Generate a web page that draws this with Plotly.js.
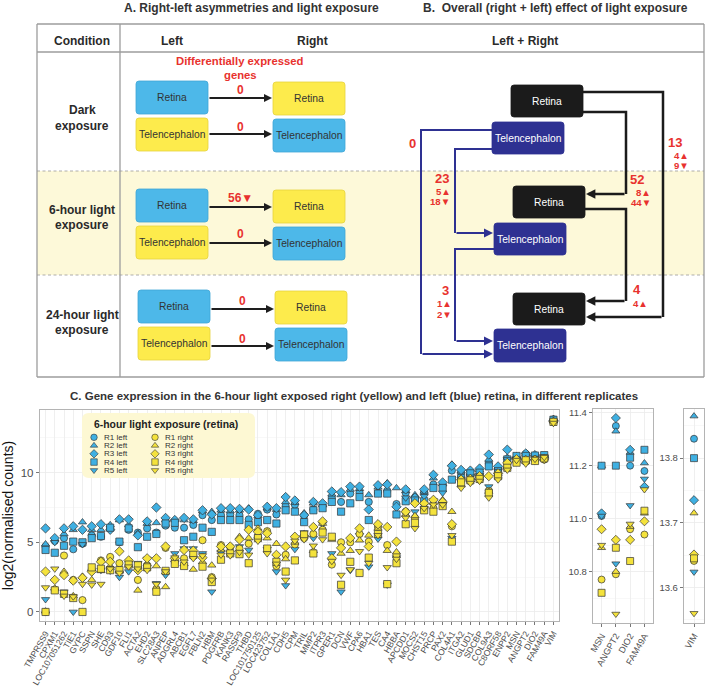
<!DOCTYPE html>
<html><head><meta charset="utf-8">
<script src="https://cdn.plot.ly/plotly-3.0.1.min.js"></script>
<style>html,body{margin:0;padding:0;background:#fff}</style>
</head><body><div id="chart" style="width:707px;height:687px"></div>
<script>
// ---------------- DATA ----------------
const genes = ['TMPRSS9','CPXM1','LOC107051262','TIE1','GYPC','SSPN','SHE','CD93','GDF10','FLI1',
 'ACTA2','EHD2','SLC28A3','ANPEP','ADGRL4','ABCB1','EGFL7','FBLN2','HBM','PDGFRB',
 'KANK3','RASSF9','THBD','LOC101750125','LOC423752','COL1A1','CDH5','CPM','TRIL','MMP2',
 'ITPR3','GPER1','DCN','VWF','CPA6','HBA1','TES','CA4','HBBA','APCDD1',
 'MOCS2','CHST15','PRCP','PAX2','COL4A1','ITGA2','GLUD1','SDCBP','COL9A3','C8ORF58',
 'ENPP2','MSN','ANGPT2','DIO2','FAM49A','VIM'];
const insetGenes = ['MSN','ANGPT2','DIO2','FAM49A'];
const insetGenes2 = ['VIM'];

const r1Left = [4.7,5.1,5.3,4.5,4.9,5.5,5.4,6.0,5.0,5.9,
 5.7,6.0,5.7,6.2,6.05,6.05,6.25,6.95,6.6,6.95,
 7.0,6.95,6.65,7.05,7.35,7.0,7.6,7.7,6.9,7.35,
 7.6,8.2,7.9,8.5,8.6,7.9,8.55,8.7,7.75,8.55,
 7.9,8.6,9.15,9.1,10.15,10.0,9.9,9.9,10.7,10.2,
 10.75,11.01,11.35,11.20,11.18,13.83];
const r2Left = [4.87,5.2,5.6,5.9,6.45,5.9,5.9,6.25,6.6,6.25,
 5.65,6.35,6.4,6.6,6.6,6.6,6.55,7.25,7.2,7.3,
 7.25,7.3,7.45,6.9,7.45,7.35,7.9,7.85,7.1,7.8,
 7.7,8.45,8.4,8.8,8.85,8.4,8.95,9.25,8.9,8.7,
 8.4,8.65,9.6,9.2,10.6,10.1,10.0,10.2,10.95,10.4,
 11.1,11.20,11.33,11.25,11.21,13.865];
const r3Left = [6.0,5.3,6.0,6.15,5.9,6.15,6.3,5.9,6.65,6.65,
 5.5,6.5,7.5,6.75,6.6,6.75,6.65,7.3,7.0,7.45,
 7.45,7.4,7.35,6.95,7.55,7.45,8.25,8.0,6.95,7.9,
 7.8,8.65,8.6,9.0,9.0,7.35,9.1,9.15,7.55,8.8,
 8.2,8.8,9.85,9.3,10.5,10.2,10.15,10.3,11.3,10.45,
 11.65,11.02,11.38,11.26,11.12,13.735];
const r4Left = [4.45,4.25,4.75,5.05,5.0,5.3,5.45,6.05,5.05,6.0,
 4.65,5.4,5.6,6.35,6.4,5.15,5.4,6.05,5.75,6.6,
 6.6,6.6,6.25,6.45,6.6,6.35,7.3,7.2,6.45,7.3,
 7.45,7.9,7.2,7.8,8.25,6.6,8.5,8.5,7.0,7.95,
 8.0,7.95,8.9,8.9,9.5,9.6,9.95,10.0,10.45,10.1,
 10.95,11.20,11.20,11.23,11.26,13.80];
const r5Left = [0.9,5.0,1.45,0.0,4.85,2.85,3.0,2.95,2.5,2.9,
 3.5,3.8,2.05,2.65,4.2,4.55,4.55,4.2,1.45,4.3,
 4.6,4.7,4.45,5.2,4.5,2.9,1.9,4.5,5.7,5.3,
 6.3,4.2,1.45,3.0,5.5,3.25,5.25,1.95,3.9,8.2,
 7.2,8.3,8.0,8.55,5.3,9.55,9.7,9.8,9.0,10.1,
 10.95,11.01,10.83,11.05,11.15,13.624];
const r1Right = [0.0,1.6,4.05,2.3,0.85,3.05,3.7,3.95,3.5,3.6,
 2.3,3.35,1.65,4.6,3.6,3.85,4.0,5.15,2.5,4.8,
 4.65,4.55,4.9,5.45,5.8,3.3,4.1,4.85,5.3,5.6,
 5.9,3.4,5.0,5.0,5.6,5.05,6.1,4.8,4.1,7.2,
 6.75,7.4,7.45,7.85,6.15,9.45,9.4,9.5,8.7,9.85,
 10.6,10.77,10.79,10.96,10.94,13.641];
const r2Right = [0.05,1.7,2.9,1.15,2.55,2.3,2.95,3.3,2.95,3.35,
 1.55,3.45,3.3,1.8,3.75,3.45,3.05,3.6,3.35,4.45,
 4.45,5.4,5.3,6.0,5.3,4.9,3.8,5.0,5.6,4.4,
 6.35,5.2,4.2,4.4,5.15,5.5,6.0,4.4,4.3,7.0,
 6.9,7.6,7.85,8.05,7.2,9.1,9.5,9.75,8.65,9.9,
 10.5,10.89,10.80,10.97,11.02,13.715];
const r3Right = [2.9,2.3,2.65,2.25,2.45,2.9,3.6,3.6,4.35,3.7,
 3.0,3.85,3.85,4.7,3.85,4.45,4.4,3.9,2.4,4.7,
 4.7,5.2,5.9,5.75,5.65,4.1,4.7,5.4,5.45,6.1,
 6.5,3.85,4.6,5.3,6.0,4.7,6.3,6.1,5.05,7.2,
 7.8,7.8,8.05,7.9,6.3,9.5,9.55,9.75,9.75,9.95,
 10.7,10.96,10.92,10.92,10.99,13.651];
const r4Right = [0.0,1.55,1.3,1.0,0.0,3.2,3.1,3.0,3.0,3.4,
 3.35,3.2,1.45,2.95,3.45,3.3,4.1,3.25,2.15,3.75,
 4.2,4.15,3.5,5.3,4.55,3.6,2.9,3.7,5.55,4.2,
 5.7,5.4,1.95,3.6,2.8,3.9,5.6,2.0,3.5,6.3,
 6.4,7.3,7.2,7.6,5.05,9.3,9.45,9.55,8.55,9.75,
 10.35,10.72,10.89,10.84,11.03,13.645];
const r5Right = [1.75,3.1,1.15,1.1,2.0,1.95,2.0,3.1,2.8,3.25,
 3.1,3.0,2.0,2.9,3.9,3.6,3.85,4.05,2.3,4.1,
 4.05,4.3,4.1,5.1,4.2,3.45,2.3,5.1,5.2,4.75,
 5.2,3.65,2.65,3.05,4.35,3.5,5.5,3.2,3.8,6.75,
 6.0,7.45,7.7,7.7,5.5,8.9,9.25,9.4,8.2,9.5,
 10.2,10.90,10.64,10.98,11.11,13.56];

const seriesNames = ['R1 left','R2 left','R3 left','R4 left','R5 left','R1 right','R2 right','R3 right','R4 right','R5 right'];
const seriesValues = [r1Left,r2Left,r3Left,r4Left,r5Left,r1Right,r2Right,r3Right,r4Right,r5Right];

// Diagram counts (differentially expressed genes)
const conditions = [['Dark','exposure'],['6-hour light','exposure'],['24-hour light','exposure']];
const asymRetina = ['0','56▼','0'];
const asymTel = ['0','0','0'];
const overallTotals = ['0','13','23','52','3','4'];
const overallSplit = [[],['4▲','9▼'],['5▲','18▼'],['8▲','44▼'],['1▲','2▼'],['4▲']];

// ---------------- STYLE ----------------
const F = 'Liberation Sans, Arial, DejaVu Sans, sans-serif';
const BLUE = '#3fb0e2', YELLOW = '#f4e23c', EDGE = '#333333';
const symbols = ['circle','triangle-up','diamond','square','triangle-down'];
const RED = '#e8322e';
const W = 707, H = 687;
const px = v => v / W, py = v => 1 - v / H;

const traces = [];
seriesNames.forEach((nm, i) => {
  const col = i < 5 ? BLUE : YELLOW;
  const mk = {symbol: symbols[i % 5], color: col, size: 7.2, line: {color: EDGE, width: 0.7}};
  traces.push({type:'scatter', mode:'markers', x: genes, y: seriesValues[i], xaxis:'x', yaxis:'y',
    marker: mk, name: nm, showlegend:false, hoverinfo:'skip'});
  traces.push({type:'scatter', mode:'markers', x: insetGenes, y: seriesValues[i].slice(51,55), xaxis:'x2', yaxis:'y2',
    marker: Object.assign({}, mk, {size:7}), name: nm, showlegend:false, hoverinfo:'skip'});
  traces.push({type:'scatter', mode:'markers', x: insetGenes2, y: seriesValues[i].slice(55,56), xaxis:'x3', yaxis:'y3',
    marker: Object.assign({}, mk, {size:7}), name: nm, showlegend:false, hoverinfo:'skip'});
});

// custom compact legend (key) on the overlay axis
const keyX = [], keyY = [], keySym = [], keyCol = [];
seriesNames.forEach((nm, i) => {
  keyX.push(i < 5 ? 94 : 155);
  keyY.push(437.3 + (i % 5) * 8.25);
  keySym.push(symbols[i % 5]);
  keyCol.push(i < 5 ? BLUE : YELLOW);
});
traces.push({type:'scatter', mode:'markers', x:keyX, y:keyY, xaxis:'x4', yaxis:'y4',
  marker:{symbol:keySym, color:keyCol, size:6.5, line:{color:EDGE, width:0.6}}, showlegend:false, hoverinfo:'skip'});

// ---------------- SHAPES & ANNOTATIONS ----------------
const shapes = [], ann = [];
const S = o => Object.assign({xref:'x4', yref:'y4'}, o);
function rr(x0,y0,x1,y1,r){
  return `M${x0+r},${y0} L${x1-r},${y0} Q${x1},${y0} ${x1},${y0+r} L${x1},${y1-r} Q${x1},${y1} ${x1-r},${y1} L${x0+r},${y1} Q${x0},${y1} ${x0},${y1-r} L${x0},${y0+r} Q${x0},${y0} ${x0+r},${y0} Z`;
}
function txt(x,y,t,size,color,opts){
  ann.push(Object.assign({xref:'x4', yref:'y4', x:x, y:y, text:t, showarrow:false,
    font:{family:F, size:size, color:color}, xanchor:'center', yanchor:'middle'}, opts||{}));
}
function line(x0,y0,x1,y1,color,w,dash){
  shapes.push(S({type:'line', x0:x0,y0:y0,x1:x1,y1:y1, line:{color:color,width:w,dash:dash||'solid'}, layer:'below'}));
}
function pathL(d,color,w){ shapes.push(S({type:'path', path:d, line:{color:color,width:w}, layer:'below'})); }
function arrow(x0,y0,x1,y1,color,w,sz){
  ann.push({xref:'x4', yref:'y4', axref:'x4', ayref:'y4', x:x1, y:y1, ax:x0, ay:y0, text:'',
    showarrow:true, arrowhead:2, arrowsize:sz||0.8, arrowwidth:w, arrowcolor:color, standoff:0, startstandoff:0});
}
function box(x0,y0,x1,y1,fill,edge,label,tc){
  shapes.push(S({type:'path', path:rr(x0,y0,x1,y1,3), fillcolor:fill, line:{color:edge,width:0.8}, layer:'below'}));
  txt((x0+x1)/2, (y0+y1)/2, label, 10.3, tc);
}

// titles
txt(251, 8, '<b>A. Right-left asymmetries and light exposure</b>', 12, '#333');
txt(555, 8, '<b>B.  Overall (right + left) effect of light exposure</b>', 12, '#333');
txt(354, 396, '<b>C. Gene expression in the 6-hour light exposed right (yellow) and left (blue) retina, in different replicates</b>', 11.5, '#333');

// table
shapes.push(S({type:'rect', x0:37, x1:704, y0:171, y1:275, fillcolor:'#fdf9d9', line:{width:0}, layer:'below'}));
const TC = '#9c9c9c';
line(37,24,704,24,TC,1.3); line(37,52,704,52,TC,1.3); line(37,377,704,377,TC,1.3);
line(37,24,37,377,TC,1.3); line(704,24,704,377,TC,1.3); line(120,24,120,377,TC,1.3);
line(37,171,704,171,'#9a9a9a',0.8,'3px,2.5px'); line(37,275,704,275,'#9a9a9a',0.8,'3px,2.5px');
txt(82,41,'<b>Condition</b>',12,'#2a2a2a'); txt(172,41,'<b>Left</b>',12,'#2a2a2a');
txt(312,41,'<b>Right</b>',12,'#2a2a2a'); txt(525,41,'<b>Left + Right</b>',12,'#2a2a2a');
const rowLab = [[110,126],[210,225],[315,330]];
conditions.forEach((c,i)=>{ txt(82,rowLab[i][0],'<b>'+c[0]+'</b>',12,'#2a2a2a'); txt(82,rowLab[i][1],'<b>'+c[1]+'</b>',12,'#2a2a2a'); });
txt(240,61,'<b>Differentially expressed</b>',11.3,RED); txt(240,74.5,'<b>genes</b>',11.3,RED);

// panel A boxes
const BB='#4db8e9', BE='#3fa6d6', YB='#fdeb4c', YE='#e6d33c';
const rowsA = [{y:81, lx:136, rx:273, ar:98, at:134, lr:90, lt:127},
               {y:189, lx:136, rx:273, ar:207, at:243, lr:198, lt:234},
               {y:290, lx:138, rx:275, ar:309, at:346, lr:301, lt:339}];
rowsA.forEach((r,i)=>{
  box(r.lx, r.y, r.lx+72, r.y+33, BB, BE, 'Retina', '#333');
  box(r.lx, r.y+37, r.lx+72, r.y+70, YB, YE, 'Telencephalon', '#333');
  box(r.rx, r.y+1, r.rx+72, r.y+34, YB, YE, 'Retina', '#333');
  box(r.rx, r.y+38, r.rx+72, r.y+71, BB, BE, 'Telencephalon', '#333');
  arrow(r.lx+72, r.ar, r.rx-1, r.ar, '#1e1e1e', 2);
  arrow(r.lx+72, r.at, r.rx-1, r.at, '#1e1e1e', 2);
  txt(r.lx+104, r.lr, '<b>'+asymRetina[i]+'</b>', 12, RED);
  txt(r.lx+104, r.lt, '<b>'+asymTel[i]+'</b>', 12, RED);
});

// panel B
const BK='#1b1b1b', NV='#2e3192';
pathL('M583,92 L663,92 L663,317', BK, 2.5); arrow(663,317,586,317,BK,2.5,0.75);
pathL('M583,112 L626,112 L626,194', BK, 2.5); arrow(626,194,586,194,BK,2.5,0.75);
pathL('M585,209 L626,209 L626,301', BK, 2.5); arrow(626,301,586,301,BK,2.5,0.75);
pathL('M492,130 L421,130 L421,354', NV, 2); arrow(421,354,493,354,NV,2,0.9);
pathL('M492,149 L455,149 L455,233', NV, 2); arrow(455,233,493,233,NV,2,0.9);
pathL('M494,249 L455,249 L455,341', NV, 2); arrow(455,341,493,341,NV,2,0.9);
box(511,85,583,117,BK,BK,'Retina','#fff');
box(492,122,564,154,NV,NV,'Telencephalon','#fff');
box(513,186,585,218,BK,BK,'Retina','#fff');
box(494,223,566,255,NV,NV,'Telencephalon','#fff');
box(513,293,585,325,BK,BK,'Retina','#fff');
box(494,329,566,362,NV,NV,'Telencephalon','#fff');
const totPos = [[412,143],[675,142],[442,178],[637,179],[445,290],[637,289.5]];
const splitPos = [[],[[681,155],[681,165.5]],[[443,191],[440,201.5]],[[643,192],[641,202.5]],[[444,303.5],[444,314.5]],[[640,303]]];
overallTotals.forEach((t,i)=>{
  txt(totPos[i][0], totPos[i][1], '<b>'+t+'</b>', 13, RED);
  overallSplit[i].forEach((s,j)=> txt(splitPos[i][j][0], splitPos[i][j][1], '<b>'+s+'</b>', 9.6, RED));
});

// legend key box + texts
shapes.push(S({type:'path', path:rr(82,413,255,478,7), fillcolor:'#fdf8d3', line:{width:0}, layer:'below'}));
txt(165.5,424.5,'<b>6-hour light exposure (retina)</b>',10.4,'#222');
seriesNames.forEach((nm,i)=>{
  txt(i<5?101.5:162.5, 437.3+(i%5)*8.25, nm, 8, '#333', {xanchor:'left'});
});

// ---------------- LAYOUT ----------------
const gridC = '#ebebeb', minorC = '#f6f6f6', tickC = '#4d4d4d', borderC = '#b4b4b4';
const yTop = 410, yBot = 621;
const common = {showline:true, mirror:true, linecolor:borderC, linewidth:1.2, zeroline:false,
  ticks:'outside', ticklen:3, tickcolor:'#555', tickwidth:0.8, gridcolor:gridC, gridwidth:0.8, showgrid:true, fixedrange:true};
const layout = {
  width:W, height:H, margin:{l:0,r:0,t:0,b:0}, paper_bgcolor:'#fff', plot_bgcolor:'rgba(0,0,0,0)',
  showlegend:false, font:{family:F},
  xaxis: Object.assign({}, common, {domain:[px(40),px(559)], anchor:'y', type:'category',
    categoryorder:'array', categoryarray:genes, range:[-0.6,55.6], tickangle:-60,
    tickmode:'array', tickvals:genes, ticktext:genes,
    tickfont:{family:F, size:8.6, color:tickC}}),
  yaxis: Object.assign({}, common, {domain:[py(yBot),py(yTop)], anchor:'x', range:[-0.65,14.5],
    tickvals:[0,5,10], tickfont:{family:F,size:11.5,color:tickC},
    minor:{tickvals:[2.5,7.5,12.5], showgrid:true, gridcolor:minorC, ticks:''},
    title:{text:'log2(normalised counts)', font:{family:F,size:14,color:'#111'}, standoff:6}}),
  xaxis2: Object.assign({}, common, {domain:[px(593),px(653)], anchor:'y2', type:'category',
    categoryorder:'array', categoryarray:insetGenes, range:[-0.6,3.6], tickangle:-60,
    tickmode:'array', tickvals:insetGenes, ticktext:insetGenes,
    tickfont:{family:F,size:9,color:tickC}}),
  yaxis2: Object.assign({}, common, {domain:[py(623),py(409)], anchor:'x2', range:[10.606,11.414],
    tickvals:[10.8,11.0,11.2,11.4], ticktext:['10.8','11.0','11.2','11.4'], tickfont:{family:F,size:9.5,color:tickC},
    minor:{tickvals:[10.7,10.9,11.1,11.3], showgrid:true, gridcolor:minorC, ticks:''}}),
  xaxis3: Object.assign({}, common, {domain:[px(684),px(704)], anchor:'y3', type:'category',
    categoryorder:'array', categoryarray:insetGenes2, range:[-0.5,0.5], tickangle:-60,
    tickfont:{family:F,size:9,color:tickC}}),
  yaxis3: Object.assign({}, common, {domain:[py(623),py(409)], anchor:'x3', range:[13.545,13.876],
    tickvals:[13.6,13.7,13.8], ticktext:['13.6','13.7','13.8'], tickfont:{family:F,size:9.5,color:tickC},
    minor:{tickvals:[13.55,13.65,13.75,13.85], showgrid:true, gridcolor:minorC, ticks:''}}),
  xaxis4: {domain:[0,1], range:[0,W], visible:false, anchor:'y4', fixedrange:true},
  yaxis4: {domain:[0,1], range:[H,0], visible:false, anchor:'x4', fixedrange:true},
  shapes: shapes, annotations: ann
};
Plotly.newPlot('chart', traces, layout, {staticPlot:true, displayModeBar:false});
</script></body></html>
